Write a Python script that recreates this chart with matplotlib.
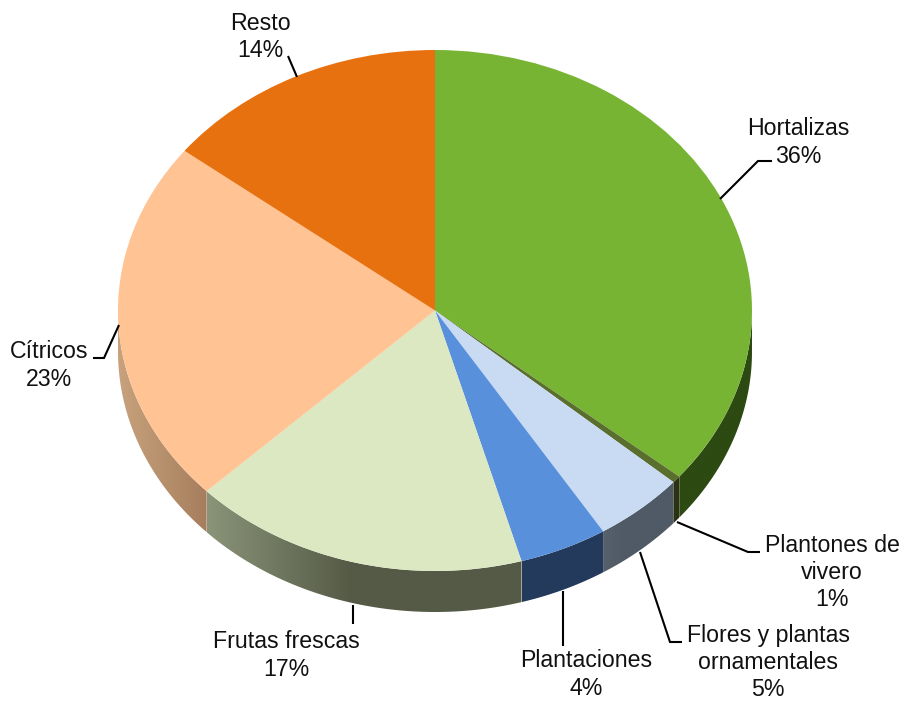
import numpy as np
import matplotlib
matplotlib.use('Agg')
import matplotlib.pyplot as plt
from matplotlib.colors import LinearSegmentedColormap
from matplotlib.patches import Polygon

plt.rcParams['font.family'] = ['Liberation Sans', 'DejaVu Sans']

# datos
categorias = ['Hortalizas', 'Plantones de\nvivero', 'Flores y plantas\nornamentales',
              'Plantaciones', 'Frutas frescas', 'Cítricos', 'Resto']
porcentajes = [36, 1, 5, 4, 17, 23, 14]
tamanos = [36.0, 0.45, 4.65, 4.5, 17.2, 22.7, 14.5]

colores = ['#77B433', '#5A6E2E', '#C9DBF3', '#5890DC', '#DBE8C2', '#FFC394', '#E8710F']
# degradado del lateral: (posición, color)
lateral = [
    [(0, '#2C4A12'), (1, '#2C4A12')],
    [(0, '#2C3214'), (1, '#2C3214')],
    [(0, '#56616C'), (0.3, '#4F5A66'), (1, '#4F5A66')],
    [(0, '#233A5C'), (1, '#233A5C')],
    [(0, '#8A9478'), (0.45, '#565B47'), (1, '#545A46')],
    [(0, '#C8A27C'), (1, '#A67E5E')],
    [(0, '#A04C0A'), (1, '#A04C0A')],
]

# posiciones en píxeles de etiquetas y líneas guía
pos_etiquetas = [(798, 142.5), (832, 572.5), (768, 662.5), (586, 674.5), (286, 655.5), (49, 365.5), (260, 37)]
guias = [
    [(720, 199), (758, 161), (772, 161)],
    [(677, 522), (748, 552), (760, 552)],
    [(640, 552), (670, 642), (682, 642)],
    [(563, 591), (563, 646)],
    [(353, 605), (353, 624)],
    [(119, 325), (104, 358), (93, 358)],
    [(297, 77), (288, 56)],
]

W, H = 905, 701
cx, cy, rx, ry = 435, 310.5, 317, 260.5
grosor = 41 / ry

fig = plt.figure(figsize=(W / 100, H / 100), dpi=100)
ax = fig.add_axes([0, 0, 1, 1])

# tapa de la tarta
ax.pie(tamanos, colors=colores, startangle=90, counterclock=False,
       wedgeprops={'linewidth': 0, 'edgecolor': 'none', 'zorder': 3})
ax.set_aspect('auto')

# lateral, solo la parte de abajo se ve
acum = np.concatenate([[0], np.cumsum(tamanos)]) / sum(tamanos)
for i in range(len(tamanos)):
    a = 90 - 360 * acum[i]
    b = 90 - 360 * acum[i + 1]
    a2, b2 = min(a, 0), max(b, -180)
    if a < -180:
        a2 = a + 360 if a + 360 < 0 else -180
    if a2 <= b2:
        continue
    t = np.radians(np.linspace(a2, b2, 120))
    x, y = np.cos(t), np.sin(t)
    verts = np.vstack([np.column_stack([x, y]),
                       np.column_stack([x[::-1], y[::-1] - grosor])])
    cmap = LinearSegmentedColormap.from_list('lat%d' % i, lateral[i])
    grad = np.linspace(0, 1, 256).reshape(1, -1)
    im = ax.imshow(grad, cmap=cmap, aspect='auto', zorder=2, interpolation='bilinear',
                   extent=(x.min(), x.max(), y.min() - grosor, y.max()))
    clip = Polygon(verts, closed=True, transform=ax.transData)
    im.set_clip_path(clip)

ax.set_xlim(-cx / rx, (W - cx) / rx)
ax.set_ylim((cy - H) / ry, cy / ry)
ax.axis('off')

# capa de textos en píxeles
capa = fig.add_axes([0, 0, 1, 1])
capa.set_xlim(0, W)
capa.set_ylim(H, 0)
capa.axis('off')

for nombre, p, pos, g in zip(categorias, porcentajes, pos_etiquetas, guias):
    capa.text(pos[0], pos[1], '%s\n%d%%' % (nombre, p), ha='center', va='center',
              fontsize=16.7, color='#111111', linespacing=1.23)
    capa.plot([q[0] for q in g], [q[1] for q in g], color='black', lw=1.5,
              solid_joinstyle='miter', solid_capstyle='butt')

fig.savefig('out.png', dpi=100)
